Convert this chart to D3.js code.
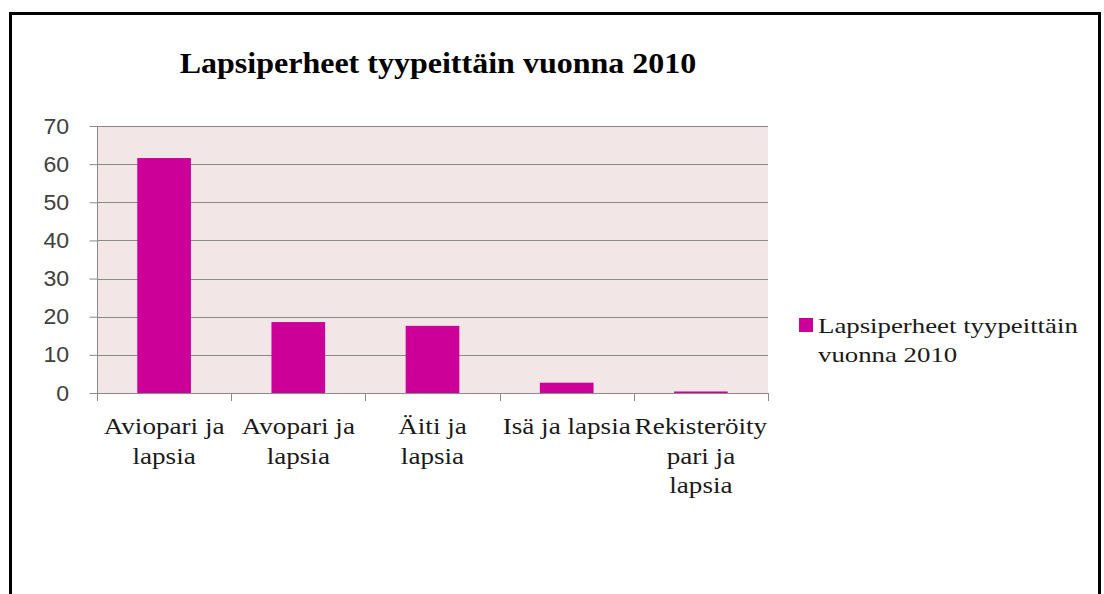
<!DOCTYPE html>
<html>
<head>
<meta charset="utf-8">
<script src="https://cdn.jsdelivr.net/npm/d3@7"></script>
<style>
  html, body { margin: 0; padding: 0; background: #ffffff; }
  svg { display: block; }
</style>
</head>
<body>
<svg id="chart" width="1104" height="594"></svg>
<script>
const titleText = "Lapsiperheet tyypeittäin vuonna 2010";
const categories = ["Aviopari ja lapsia", "Avopari ja lapsia", "Äiti ja lapsia", "Isä ja lapsia", "Rekisteröity pari ja lapsia"];
const categoryLines = [["Aviopari ja", "lapsia"], ["Avopari ja", "lapsia"], ["Äiti ja", "lapsia"], ["Isä ja lapsia"], ["Rekisteröity", "pari ja", "lapsia"]];
const values = [61.6, 18.6, 17.6, 2.7, 0.4];
const yTicks = [0, 10, 20, 30, 40, 50, 60, 70];
const legendLines = ["Lapsiperheet tyypeittäin", "vuonna 2010"];

const svg = d3.select("#chart");
const serif = "'Liberation Serif', 'Times New Roman', serif";
const sans = "'Liberation Sans', Arial, sans-serif";

// Outer frame
svg.append("rect").attr("x", 10.5).attr("y", 13.5).attr("width", 1089).attr("height", 640)
  .attr("fill", "#ffffff").attr("stroke", "#000").attr("stroke-width", 3);

const plot = { left: 97, right: 768, top: 126, bottom: 393 };

const x = d3.scaleBand().domain(categories).range([plot.left, plot.right])
  .paddingInner(0.6).paddingOuter(0.3);
const y = d3.scaleLinear().domain([0, 70]).range([plot.bottom, plot.top]);

// Plot background
svg.append("rect").attr("x", plot.left).attr("y", plot.top)
  .attr("width", plot.right - plot.left).attr("height", plot.bottom - plot.top)
  .attr("fill", "#f2e6e6");

// Gridlines
svg.append("g").selectAll("line").data(yTicks.filter(d => d > 0)).join("line")
  .attr("x1", plot.left).attr("x2", plot.right)
  .attr("y1", d => Math.round(y(d)) + 0.5).attr("y2", d => Math.round(y(d)) + 0.5)
  .attr("stroke", "#8a8a8a").attr("stroke-width", 1);

// Bars
svg.append("g").selectAll("rect").data(values).join("rect")
  .attr("x", (d, i) => x(categories[i]))
  .attr("width", x.bandwidth())
  .attr("y", d => y(d))
  .attr("height", d => y(0) - y(d))
  .attr("fill", "#cc0099");

// Y axis
const yAxis = d3.axisLeft(y).tickValues(yTicks).tickSize(8).tickPadding(19).tickFormat(d3.format("d"));
const gy = svg.append("g").attr("transform", `translate(${plot.left + 0.5},0)`).call(yAxis);
gy.select(".domain").attr("stroke", "#8a8a8a").attr("d", `M0,${plot.top}V${plot.bottom}`);
gy.selectAll(".tick line").attr("stroke", "#8a8a8a");
gy.selectAll(".tick text").attr("font-family", sans).attr("font-size", 22).attr("fill", "#404040")
  .attr("transform", "scale(1.05,1)");

// X axis baseline and ticks
const tickXs = [plot.left].concat(categories.map((c, i) => plot.left + x.step() * (i + 1)));
svg.append("line").attr("x1", plot.left).attr("x2", plot.right)
  .attr("y1", plot.bottom + 0.5).attr("y2", plot.bottom + 0.5).attr("stroke", "#8a8a8a");
svg.append("g").selectAll("line").data(tickXs).join("line")
  .attr("x1", d => Math.round(d) + 0.5).attr("x2", d => Math.round(d) + 0.5)
  .attr("y1", plot.bottom).attr("y2", plot.bottom + 8).attr("stroke", "#8a8a8a");

// helper: stretched text
function stretched(parent, tx, ty, str, opts) {
  return parent.append("text")
    .attr("transform", `translate(${tx},${ty}) scale(${opts.k},1)`)
    .attr("text-anchor", opts.anchor)
    .attr("font-family", serif)
    .attr("font-size", opts.size)
    .attr("font-weight", opts.weight || "normal")
    .attr("fill", opts.fill || "#1a1a1a")
    .text(str);
}

// X labels
const xl = svg.append("g");
categories.forEach((c, i) => {
  const cx = x(c) + x.bandwidth() / 2;
  categoryLines[i].forEach((ln, j) => {
    stretched(xl, cx, 434 + j * 29.5, ln, { k: 1.18, anchor: "middle", size: 23 });
  });
});

// Title
const title = stretched(svg, 438, 73, titleText, { k: 1, anchor: "middle", size: 30, weight: "bold", fill: "#000" });
const tw = title.node().getComputedTextLength();
title.attr("transform", `translate(438,73) scale(${517 / tw},1)`);

// Legend
svg.append("rect").attr("x", 799).attr("y", 318).attr("width", 14).attr("height", 14).attr("fill", "#cc0099");
const lg = svg.append("g");
legendLines.forEach((ln, j) => {
  const t = stretched(lg, 818, 333 + j * 29, ln, { k: 1, anchor: "start", size: 22 });
  if (j === 0) {
    const w = t.node().getComputedTextLength();
    lg.attr("data-k", 260 / w);
  }
});
const kLeg = +lg.attr("data-k");
lg.selectAll("text").each(function(d, j) {
  d3.select(this).attr("transform", `translate(818,${333 + j * 29}) scale(${kLeg},1)`);
});
</script>
</body>
</html>
